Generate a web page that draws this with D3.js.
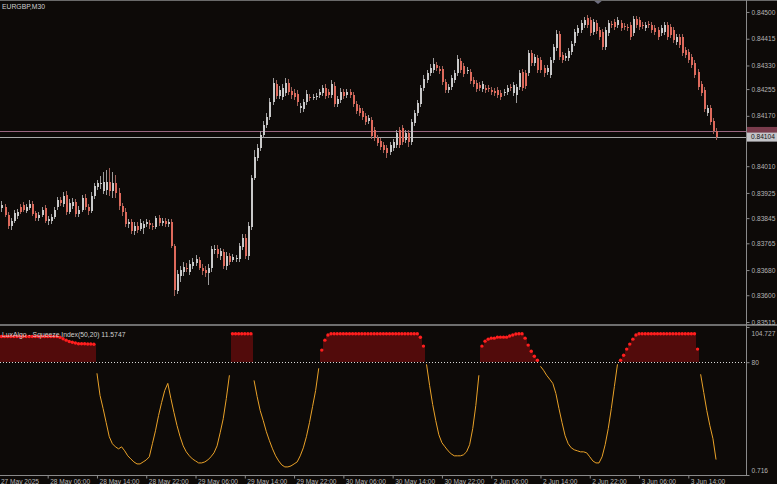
<!DOCTYPE html>
<html><head><meta charset="utf-8">
<script src="https://cdn.jsdelivr.net/npm/d3@7"></script>
<style>
html,body{margin:0;padding:0;background:#0d0a08;}
svg{display:block;}
</style></head><body>
<svg id="c" width="777" height="484"></svg>
<script>
const symbolTitle = "EURGBP,M30";
const indicatorTitle = "LuxAlgo - Squeeze Index(50,20) 11.5747";

const open = [
0.83871,0.83877,0.83880,0.83855,0.83820,0.83836,0.83852,0.83880,0.83887,0.83868,
0.83877,0.83890,0.83861,0.83845,0.83855,0.83877,0.83836,0.83836,0.83849,0.83880,
0.83903,0.83890,0.83918,0.83864,0.83883,0.83896,0.83858,0.83871,0.83909,0.83880,
0.83868,0.83915,0.83944,0.83953,0.83931,0.83934,0.83960,0.83931,0.83957,0.83925,
0.83883,0.83864,0.83826,0.83833,0.83804,0.83820,0.83810,0.83814,0.83826,0.83829,
0.83820,0.83817,0.83845,0.83829,0.83836,0.83826,0.83833,0.83756,0.83613,0.83661,
0.83674,0.83686,0.83674,0.83693,0.83702,0.83712,0.83686,0.83680,0.83671,0.83686,
0.83744,0.83747,0.83725,0.83737,0.83693,0.83725,0.83712,0.83715,0.83715,0.83753,
0.83782,0.83725,0.83817,0.83972,0.84036,0.84068,0.84109,0.84141,0.84166,0.84214,
0.84271,0.84233,0.84230,0.84243,0.84274,0.84249,0.84243,0.84239,0.84195,0.84192,
0.84214,0.84230,0.84227,0.84230,0.84236,0.84243,0.84258,0.84246,0.84236,0.84265,
0.84208,0.84220,0.84246,0.84236,0.84246,0.84236,0.84208,0.84195,0.84185,0.84169,
0.84154,0.84157,0.84125,0.84100,0.84090,0.84077,0.84068,0.84055,0.84068,0.84077,
0.84125,0.84131,0.84093,0.84115,0.84087,0.84147,0.84179,0.84208,0.84258,0.84284,
0.84306,0.84316,0.84331,0.84319,0.84319,0.84277,0.84252,0.84262,0.84284,0.84306,
0.84344,0.84328,0.84312,0.84309,0.84284,0.84274,0.84268,0.84255,0.84258,0.84258,
0.84252,0.84249,0.84252,0.84243,0.84243,0.84246,0.84262,0.84243,0.84236,0.84262,
0.84309,0.84306,0.84306,0.84370,0.84338,0.84354,0.84347,0.84322,0.84309,0.84300,
0.84347,0.84386,0.84430,0.84363,0.84354,0.84354,0.84373,0.84401,0.84433,0.84443,
0.84459,0.84481,0.84474,0.84436,0.84465,0.84443,0.84436,0.84389,0.84433,0.84462,
0.84468,0.84459,0.84465,0.84455,0.84452,0.84459,0.84433,0.84478,0.84474,0.84459,
0.84449,0.84462,0.84459,0.84449,0.84443,0.84433,0.84436,0.84459,0.84452,0.84443,
0.84405,0.84420,0.84420,0.84379,0.84373,0.84357,0.84338,0.84309,0.84271,0.84252,
0.84179,0.84195,0.84154,0.84122];

const high = [
0.83893,0.83899,0.83890,0.83864,0.83845,0.83871,0.83874,0.83890,0.83896,0.83890,
0.83903,0.83899,0.83868,0.83864,0.83880,0.83887,0.83852,0.83858,0.83880,0.83912,
0.83912,0.83928,0.83931,0.83906,0.83909,0.83906,0.83883,0.83918,0.83922,0.83890,
0.83928,0.83957,0.83966,0.83979,0.83992,0.83998,0.84004,0.83992,0.83982,0.83941,
0.83893,0.83877,0.83842,0.83842,0.83833,0.83833,0.83842,0.83836,0.83842,0.83839,
0.83829,0.83852,0.83855,0.83845,0.83845,0.83842,0.83842,0.83763,0.83680,0.83693,
0.83706,0.83702,0.83712,0.83718,0.83728,0.83721,0.83699,0.83693,0.83699,0.83756,
0.83760,0.83760,0.83750,0.83747,0.83737,0.83734,0.83731,0.83728,0.83766,0.83795,
0.83795,0.83833,0.83982,0.84061,0.84080,0.84122,0.84154,0.84179,0.84227,0.84290,
0.84284,0.84265,0.84271,0.84290,0.84287,0.84262,0.84255,0.84252,0.84211,0.84223,
0.84252,0.84239,0.84239,0.84243,0.84255,0.84268,0.84271,0.84255,0.84284,0.84277,
0.84233,0.84258,0.84255,0.84255,0.84255,0.84246,0.84217,0.84204,0.84195,0.84179,
0.84173,0.84166,0.84134,0.84109,0.84100,0.84087,0.84077,0.84087,0.84096,0.84125,
0.84134,0.84141,0.84125,0.84125,0.84160,0.84188,0.84220,0.84268,0.84300,0.84316,
0.84335,0.84354,0.84341,0.84328,0.84328,0.84287,0.84271,0.84300,0.84316,0.84363,
0.84354,0.84338,0.84325,0.84319,0.84293,0.84284,0.84277,0.84281,0.84268,0.84268,
0.84262,0.84258,0.84262,0.84252,0.84255,0.84268,0.84271,0.84277,0.84271,0.84316,
0.84319,0.84316,0.84379,0.84379,0.84366,0.84363,0.84357,0.84331,0.84331,0.84357,
0.84398,0.84443,0.84440,0.84373,0.84370,0.84386,0.84408,0.84446,0.84459,0.84474,
0.84484,0.84490,0.84484,0.84478,0.84474,0.84452,0.84446,0.84452,0.84474,0.84471,
0.84478,0.84484,0.84474,0.84465,0.84462,0.84468,0.84487,0.84487,0.84484,0.84468,
0.84468,0.84471,0.84468,0.84459,0.84452,0.84459,0.84468,0.84468,0.84462,0.84452,
0.84430,0.84430,0.84430,0.84389,0.84382,0.84366,0.84347,0.84319,0.84281,0.84262,
0.84204,0.84204,0.84163,0.84131];

const low = [
0.83861,0.83864,0.83849,0.83810,0.83807,0.83829,0.83842,0.83858,0.83864,0.83861,
0.83871,0.83852,0.83836,0.83836,0.83849,0.83829,0.83823,0.83826,0.83842,0.83871,
0.83883,0.83880,0.83855,0.83858,0.83874,0.83849,0.83849,0.83864,0.83871,0.83855,
0.83861,0.83906,0.83934,0.83938,0.83922,0.83918,0.83915,0.83909,0.83909,0.83871,
0.83852,0.83817,0.83814,0.83795,0.83791,0.83798,0.83804,0.83795,0.83817,0.83810,
0.83807,0.83810,0.83820,0.83820,0.83817,0.83817,0.83750,0.83597,0.83604,0.83642,
0.83661,0.83674,0.83664,0.83683,0.83693,0.83680,0.83664,0.83658,0.83632,0.83674,
0.83731,0.83718,0.83712,0.83683,0.83680,0.83696,0.83706,0.83706,0.83706,0.83744,
0.83715,0.83712,0.83807,0.83966,0.84026,0.84058,0.84100,0.84131,0.84157,0.84204,
0.84223,0.84223,0.84220,0.84233,0.84236,0.84223,0.84220,0.84201,0.84179,0.84182,
0.84204,0.84217,0.84220,0.84220,0.84227,0.84233,0.84223,0.84227,0.84227,0.84198,
0.84198,0.84211,0.84223,0.84227,0.84227,0.84198,0.84176,0.84169,0.84157,0.84141,
0.84144,0.84096,0.84090,0.84074,0.84061,0.84052,0.84036,0.84046,0.84058,0.84068,
0.84068,0.84077,0.84084,0.84071,0.84077,0.84138,0.84169,0.84198,0.84249,0.84274,
0.84297,0.84306,0.84312,0.84303,0.84268,0.84243,0.84243,0.84252,0.84274,0.84297,
0.84306,0.84293,0.84303,0.84271,0.84262,0.84246,0.84249,0.84246,0.84243,0.84246,
0.84236,0.84233,0.84227,0.84220,0.84233,0.84236,0.84249,0.84233,0.84211,0.84252,
0.84249,0.84255,0.84297,0.84328,0.84328,0.84306,0.84306,0.84293,0.84300,0.84290,
0.84338,0.84376,0.84347,0.84338,0.84344,0.84344,0.84363,0.84392,0.84424,0.84433,
0.84449,0.84449,0.84424,0.84427,0.84430,0.84411,0.84379,0.84379,0.84424,0.84449,
0.84443,0.84449,0.84440,0.84443,0.84440,0.84411,0.84424,0.84449,0.84443,0.84446,
0.84440,0.84449,0.84433,0.84427,0.84411,0.84424,0.84427,0.84411,0.84417,0.84401,
0.84395,0.84386,0.84360,0.84354,0.84338,0.84322,0.84290,0.84252,0.84233,0.84182,
0.84169,0.84141,0.84112,0.84093];

const close = [
0.83883,0.83887,0.83855,0.83820,0.83836,0.83861,0.83864,0.83864,0.83871,0.83880,
0.83890,0.83858,0.83845,0.83855,0.83871,0.83836,0.83842,0.83849,0.83871,0.83903,
0.83893,0.83915,0.83864,0.83893,0.83896,0.83858,0.83871,0.83909,0.83880,0.83868,
0.83915,0.83947,0.83957,0.83957,0.83960,0.83960,0.83931,0.83957,0.83925,0.83883,
0.83864,0.83826,0.83833,0.83804,0.83820,0.83807,0.83829,0.83826,0.83833,0.83823,
0.83817,0.83845,0.83829,0.83836,0.83826,0.83833,0.83756,0.83617,0.83667,0.83680,
0.83690,0.83683,0.83699,0.83706,0.83715,0.83686,0.83677,0.83671,0.83686,0.83747,
0.83747,0.83731,0.83741,0.83693,0.83725,0.83706,0.83721,0.83718,0.83756,0.83782,
0.83725,0.83820,0.83972,0.84039,0.84068,0.84109,0.84141,0.84166,0.84214,0.84274,
0.84233,0.84252,0.84258,0.84274,0.84246,0.84236,0.84230,0.84214,0.84201,0.84214,
0.84239,0.84227,0.84230,0.84233,0.84246,0.84258,0.84233,0.84236,0.84271,0.84208,
0.84223,0.84246,0.84233,0.84246,0.84236,0.84208,0.84185,0.84179,0.84166,0.84150,
0.84163,0.84106,0.84100,0.84084,0.84071,0.84061,0.84052,0.84077,0.84087,0.84115,
0.84077,0.84087,0.84115,0.84087,0.84150,0.84179,0.84211,0.84258,0.84287,0.84306,
0.84322,0.84335,0.84322,0.84312,0.84277,0.84252,0.84262,0.84290,0.84306,0.84351,
0.84316,0.84303,0.84316,0.84281,0.84271,0.84255,0.84258,0.84271,0.84252,0.84255,
0.84246,0.84243,0.84236,0.84230,0.84246,0.84258,0.84258,0.84268,0.84262,0.84306,
0.84258,0.84265,0.84370,0.84338,0.84357,0.84316,0.84316,0.84306,0.84322,0.84347,
0.84389,0.84430,0.84357,0.84347,0.84360,0.84376,0.84398,0.84436,0.84449,0.84465,
0.84474,0.84459,0.84433,0.84468,0.84440,0.84420,0.84389,0.84443,0.84465,0.84459,
0.84452,0.84474,0.84449,0.84452,0.84449,0.84420,0.84478,0.84459,0.84452,0.84455,
0.84459,0.84459,0.84443,0.84436,0.84420,0.84449,0.84459,0.84420,0.84427,0.84411,
0.84420,0.84395,0.84370,0.84363,0.84347,0.84331,0.84300,0.84262,0.84243,0.84192,
0.84195,0.84150,0.84122,0.84104];

const squeeze = [
98,98,98,98,98,98,98,98,98,98,
98,98,98,98,98,98,98,98,98,98,
97.5,96.5,95.5,94.5,94,93.5,93,93,93,92.8,
92.8,92.6,72.2,56.6,47.4,37.5,27.6,22.7,20.5,19.1,
20.5,17.7,14.2,12.0,9.9,8.5,8.5,9.9,11.3,13.5,
22.7,31.8,42.5,51.7,60.1,65.1,54.5,44.6,35.4,27.6,
21.2,17.0,14.2,12.0,10.6,9.2,9.2,9.9,11.3,13.5,
16.3,21.2,30.4,40.3,54.5,70.8,100,100,100,100,
100,100,100,67.2,55.9,46.0,38.9,31.1,24.8,19.1,
14.2,10.6,7.8,6.4,6.4,7.1,8.5,9.9,14.2,19.8,
27.6,37.5,48.8,60.1,75.7,88.5,95.5,99.1,100,100,
100,100,100,100,100,100,100,100,100,100,
100,100,100,100,100,100,100,100,100,100,
100,100,100,100,100,100,100,97.5,91.3,78.5,
63.7,50.2,38.9,29.0,23.4,20.5,17.7,15.6,14.2,14.2,
14.2,14.9,17.0,22.0,33.3,49.5,70.8,91.3,94.8,96.2,
96.9,96.9,97.6,97.6,97.6,97.6,98.4,99.1,99.8,100,
100,96.9,92.0,87.7,84.2,81.4,77.1,74.3,70.8,68.0,
65.1,58.0,47.4,37.5,28.3,22.7,19.8,18.4,17.7,17.0,
17.0,16.3,13.5,10.6,9.2,9.2,13.5,22.0,33.3,47.4,
63.0,78.5,81.4,84.9,89.2,92.7,96.2,99.1,100,100,
100,100,100,100,100,100,100,100,100,100,
100,100,100,100,100,100,100,89.2,71.5,58.7,
46.0,35.4,26.2,11.5747];

const priceTicks = [0.84500,0.84415,0.84330,0.84255,0.84170,0.84010,0.83925,0.83845,0.83765,0.83680,0.83600,0.83515];
const bidPrice = 0.84104;
const askPrice = 0.84122;
const timeTickBars = [0,16,32,48,64,80,96,112,128,144,160,176,192,208,224];
const timeTickLabels = ["27 May 2025","28 May 06:00","28 May 14:00","28 May 22:00","29 May 06:00","29 May 14:00","29 May 22:00","30 May 06:00","30 May 14:00","30 May 22:00","2 Jun 06:00","2 Jun 14:00","2 Jun 22:00","3 Jun 06:00","3 Jun 14:00"];
const squeezeTicks = [104.727, 80, 0.716];
const squeezeTickLabels = ["104.727","80","0.716"];
const squeezeLevel = 80;

// ---------- drawing ----------
const FONT = "'Liberation Sans', Arial, sans-serif";
const svg = d3.select("#c");
const axisX = 746;
const n = close.length;
const step = 3.08;
const x = d3.scaleLinear().domain([0, n - 1]).range([-1.6, -1.6 + step * (n - 1)]);
const yP = d3.scaleLinear().domain([0.83515, 0.84538]).range([322, 0]);
const yS = d3.scaleLinear().domain([0.716, 104.727]).range([475, 327]);

svg.append("rect").attr("width", 777).attr("height", 484).attr("fill", "#0d0a08");

const defs = svg.append("defs");
defs.append("clipPath").attr("id", "clipTop").append("rect").attr("x", 0).attr("y", 1).attr("width", axisX).attr("height", 323);
defs.append("clipPath").attr("id", "clipBot").append("rect").attr("x", 0).attr("y", 327).attr("width", axisX).attr("height", 148);

// upper pane
const gTop = svg.append("g").attr("clip-path", "url(#clipTop)");
const idx = d3.range(n);

// ask / bid lines
gTop.append("line").attr("x1", 0).attr("x2", axisX).attr("y1", Math.round(yP(askPrice)) + 0.5).attr("y2", Math.round(yP(askPrice)) + 0.5)
  .attr("stroke", "#9a6680").attr("stroke-width", 1);
gTop.append("line").attr("x1", 0).attr("x2", axisX).attr("y1", Math.round(yP(bidPrice)) + 0.5).attr("y2", Math.round(yP(bidPrice)) + 0.5)
  .attr("stroke", "#a9a9a9").attr("stroke-width", 1);

const candles = gTop.append("g").attr("shape-rendering", "crispEdges");
candles.selectAll("line.wick").data(idx).join("line").attr("class", "wick")
  .attr("x1", i => Math.round(x(i)) + 0.5).attr("x2", i => Math.round(x(i)) + 0.5)
  .attr("y1", i => yP(high[i])).attr("y2", i => yP(low[i]))
  .attr("stroke", i => close[i] >= open[i] ? "#9c9c9c" : "#a06058").attr("stroke-width", 1);
candles.selectAll("rect.body").data(idx).join("rect").attr("class", "body")
  .attr("x", i => Math.round(x(i)) - 0.5).attr("width", 2)
  .attr("y", i => yP(Math.max(open[i], close[i])))
  .attr("height", i => Math.max(1, Math.abs(yP(open[i]) - yP(close[i]))))
  .attr("fill", i => close[i] >= open[i] ? "#c9c9c9" : "#de6a5c");

// chart-shift marker
svg.append("path").attr("d", "M593,0 L603,0 L598,4 Z").attr("fill", "#6e6e80");

// lower pane
const gBot = svg.append("g").attr("clip-path", "url(#clipBot)");
const redIdx = idx.filter(i => squeeze[i] >= squeezeLevel);
gBot.append("g").attr("shape-rendering", "crispEdges").selectAll("rect").data(redIdx).join("rect")
  .attr("x", i => x(i) - step / 2).attr("width", step + 0.3)
  .attr("y", i => yS(squeeze[i])).attr("height", i => yS(squeezeLevel) - yS(squeeze[i]))
  .attr("fill", "#520b0b");
gBot.append("line").attr("x1", 0).attr("x2", axisX).attr("y1", Math.round(yS(squeezeLevel)) + 0.5).attr("y2", Math.round(yS(squeezeLevel)) + 0.5)
  .attr("stroke", "#d8d8d8").attr("stroke-dasharray", "1,2");
const line = d3.line().defined(i => squeeze[i] < squeezeLevel).x(i => x(i)).y(i => yS(squeeze[i]));
gBot.append("path").attr("d", line(idx)).attr("fill", "none").attr("stroke", "#eaa228").attr("stroke-width", 1);
gBot.selectAll("circle").data(redIdx).join("circle")
  .attr("cx", i => x(i)).attr("cy", i => yS(squeeze[i])).attr("r", 1.7).attr("fill", "#ff1e1e");

// frame lines
svg.append("line").attr("x1", 0).attr("x2", 777).attr("y1", 0.5).attr("y2", 0.5).attr("stroke", "#6a6a6a");
svg.append("rect").attr("x", 0).attr("y", 324).attr("width", 777).attr("height", 2).attr("fill", "#6e6e6e");
svg.append("line").attr("x1", axisX + 0.5).attr("x2", axisX + 0.5).attr("y1", 0).attr("y2", 476).attr("stroke", "#8a8a8a");
svg.append("line").attr("x1", 0).attr("x2", axisX + 1).attr("y1", 475.5).attr("y2", 475.5).attr("stroke", "#8a8a8a");

// price axis
const gPA = svg.append("g").attr("transform", `translate(${axisX + 0.5},0)`)
  .call(d3.axisRight(yP).tickValues(priceTicks).tickFormat(d3.format(".5f")).tickSize(3).tickPadding(2));
gPA.attr("font-size", 6.6).attr("font-family", FONT);
gPA.select(".domain").remove();
gPA.selectAll("line").attr("stroke", "#8a8a8a");
gPA.selectAll("text").attr("fill", "#b4b4b4");

// ask / bid labels
svg.append("rect").attr("x", axisX + 1).attr("y", yP(askPrice) - 4).attr("width", 31).attr("height", 7).attr("fill", "#7a3c4c");
svg.append("rect").attr("x", axisX + 1).attr("y", yP(bidPrice) - 4).attr("width", 31).attr("height", 9).attr("fill", "#c4c4c8");
svg.append("text").attr("x", axisX + 5).attr("y", yP(bidPrice)).attr("dy", "0.32em")
  .attr("font-size", 6.6).attr("font-family", FONT).attr("fill", "#111").text(d3.format(".5f")(bidPrice));

// squeeze axis
const gSA = svg.append("g").attr("transform", `translate(${axisX + 0.5},0)`)
  .call(d3.axisRight(yS).tickValues(squeezeTicks).tickFormat((d, i) => squeezeTickLabels[i]).tickSize(3).tickPadding(2));
gSA.attr("font-size", 6.6).attr("font-family", FONT);
gSA.select(".domain").remove();
gSA.selectAll("line").attr("stroke", "#8a8a8a");
gSA.selectAll("text").attr("fill", "#b4b4b4");
gSA.selectAll(".tick").filter(d => d === squeezeTicks[0]).select("text").attr("y", 6);
gSA.selectAll(".tick").filter(d => d === squeezeTicks[2]).select("text").attr("y", -5);

// time axis
const gTA = svg.append("g").attr("transform", "translate(0,475.5)")
  .call(d3.axisBottom(x).tickValues(timeTickBars).tickFormat((d, i) => timeTickLabels[i]).tickSize(3).tickPadding(1));
gTA.attr("font-size", 6.6).attr("font-family", FONT);
gTA.select(".domain").remove();
gTA.selectAll("line").attr("stroke", "#8a8a8a");
gTA.selectAll("text").attr("fill", "#b4b4b4").attr("text-anchor", "start").attr("dx", 2);

// titles
svg.append("text").attr("x", 2).attr("y", 9).attr("font-size", 6.8).attr("font-family", FONT).attr("fill", "#d0d0d0").text(symbolTitle);
svg.append("text").attr("x", 2).attr("y", 337).attr("font-size", 6.8).attr("font-family", FONT).attr("fill", "#d0d0d0").text(indicatorTitle);
</script>
</body></html>
